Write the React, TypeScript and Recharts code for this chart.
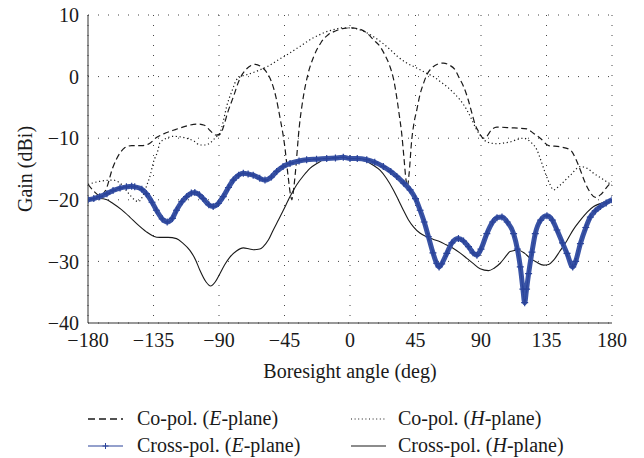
import React from 'react'
import { LineChart, Line, XAxis, YAxis, CartesianGrid, Label } from 'recharts'

// angle (deg) / gain (dBi) pairs
const coPolEAngle = [
  -180, -176, -172, -168, -163, -158, -155, -150, -143, -138, -133, -128, -120, -112, -105, -100,
  -96, -92, -89, -87, -84, -80, -76, -72, -68, -65, -61, -57, -54, -51, -48, -45, -42.5, -41, -40,
  -39, -37.5, -35, -32, -29, -25, -20, -15, -10, -5, 0, 5, 11.5, 16, 20.6, 24, 27.5, 30, 32, 34,
  35.5, 37, 38.5, 39.4, 40.5, 42.4, 44, 45.9, 48, 50.5, 53, 56.2, 60, 64.2, 68, 72.2, 75, 78, 81,
  83.7, 86, 88.3, 91.7, 94, 97, 100.9, 110, 121.6, 126, 130.7, 136.5, 144.5, 151.4, 155, 158.3,
  161, 164, 168.6, 172, 176.6, 180,
]
const coPolEGain = [
  -17.5, -18.6, -19.3, -18.5, -14.8, -12.4, -11.6, -11.2, -11.2, -10.9, -9.9, -9.3, -8.6, -8.0,
  -7.7, -7.9, -8.8, -9.5, -9.3, -8.2, -5.8, -3.2, -0.5, 1.0, 1.8, 2.0, 1.6, 0.6, -0.8, -3.2, -6.8,
  -11, -16.2, -19.0, -20.0, -18.8, -15.5, -8.5, -3.2, 0.3, 3.2, 5.5, 6.8, 7.4, 7.8, 7.9, 7.8, 7.1,
  6.0, 4.9, 3.5, 1.6, -0.5, -3.2, -6.5, -9.2, -13, -16.8, -17.9, -16, -10.3, -7.5, -5.4, -3.0,
  -1.1, 0.4, 1.4, 2.0, 2.2, 1.9, 1.1, -0.2, -1.6, -3.6, -5.9, -7.8, -8.9, -10, -9.7, -8.7, -8.2,
  -8.3, -8.5, -9.2, -10, -11.2, -11.4, -11.9, -13.3, -15.2, -16.9, -18.4, -19.6, -19.2, -17.9, -17,
]

const coPolHAngle = [
  -180, -172, -163, -157, -152, -148, -145.6, -142, -140, -137, -135.3, -132, -130.7, -126, -121.5,
  -116, -112.3, -107, -103.2, -99, -96.3, -92, -89.4, -87, -84.8, -81, -77.9, -74, -71, -66, -61.9,
  -57, -52.7, -48, -43.5, -39, -34.4, -30, -25.2, -20, -16, -10, -6.8, 0, 8, 16, 22, 27.5, 33, 39,
  44, 48.2, 53, 57.3, 62, 66.5, 71, 75.7, 80, 83.7, 86.5, 89.4, 94, 100.9, 105, 110, 115, 119.2,
  124, 128.4, 131, 134.2, 137, 139.9, 142, 144.5, 151.4, 158.3, 163, 167.4, 172, 176.6, 180,
]
const coPolHGain = [
  -17.5, -17.0, -16.8, -17.5, -19.0, -20.0, -20.3, -19.2, -17.9, -15.8, -14.1, -12, -10.8, -10.0,
  -9.7, -9.8, -10, -10.5, -11.1, -11.1, -10.8, -9.8, -9.2, -7.2, -4.9, -2.3, -0.5, 0.1, 0.3, 0.7,
  1.1, 1.6, 2.2, 2.9, 3.5, 4.2, 4.9, 5.6, 6.3, 6.9, 7.3, 7.7, 7.9, 7.9, 7.5, 6.5, 5.5, 4.4, 3.2,
  2.2, 1.6, 1.1, 0.5, 0, -0.8, -1.6, -2.6, -3.8, -5.3, -7, -8.4, -9.5, -10.6, -10.9, -10.8, -10.6,
  -10.2, -10, -10.6, -11.9, -13.5, -15.7, -17.3, -18.4, -18.1, -17.6, -16, -14.6, -14.9, -15.7,
  -16.4, -17.1, -17.6,
]

const crossPolEAngle = [
  -180, -176, -172, -167, -162.8, -158, -153.6, -150, -147.9, -143, -139.9, -136, -133, -129,
  -125.6, -122, -119.2, -115.5, -112.3, -109, -106.6, -103.5, -100.9, -97, -94, -90.5, -87.1,
  -83.5, -80.2, -76.5, -73.3, -70, -66.5, -62, -58.4, -54, -50.4, -46, -41.2, -35, -29.8, -23, -16,
  -10, -4.6, 0, 5, 11.5, 17, 22.9, 28, 32.1, 37, 41.3, 45, 48.2, 51, 53.9, 57, 59.5, 61.2, 63,
  66.5, 70, 74.5, 78, 81.4, 84.5, 87.2, 90, 94, 98, 101, 104.4, 108, 112.4, 115, 117, 118.8, 120,
  121.3, 122.7, 125, 127.3, 131, 135.3, 139, 142.2, 146, 149.1, 153, 155, 158.3, 162, 165.1,
  168.5, 172, 176, 180,
]
const crossPolEGain = [
  -20, -19.8, -19.5, -19.0, -18.5, -18.1, -17.9, -17.8, -17.9, -18.3, -19.0, -20.4, -21.7, -23.1,
  -23.6, -23.0, -21.7, -20.3, -19.5, -18.9, -18.8, -19.2, -19.8, -20.8, -21.1, -20.6, -19.5, -18.0,
  -16.8, -16.0, -15.7, -15.8, -16.0, -16.5, -16.8, -16.3, -15.4, -14.6, -14.1, -13.7, -13.5, -13.4,
  -13.3, -13.2, -13.1, -13.3, -13.3, -13.5, -13.9, -14.6, -15.4, -16.2, -17.3, -18.4, -19.8,
  -21.7, -23.6, -26.0, -28.6, -30.3, -30.9, -30.4, -28.7, -27.0, -26.3, -26.7, -27.6, -28.6,
  -29.0, -28.0, -25.5, -23.6, -22.9, -22.8, -23.6, -25.5, -28.0, -30.9, -34.5, -36.7, -34.5, -32.0,
  -28.5, -25.5, -23.3, -22.6, -23.3, -24.9, -27.0, -28.7, -30.9, -30.0, -27.1, -24.5, -22.8, -21.8,
  -21.1, -20.5, -20,
]

const crossPolHAngle = [
  -180, -172, -167, -162.8, -157, -151.3, -146, -139.9, -135, -130.7, -125, -119.2, -115, -110,
  -106, -103.2, -99, -95.8, -92.5, -89.4, -86, -82.5, -78, -73.3, -69, -66.5, -62, -59.6, -56,
  -52.7, -49, -45.8, -41, -36.7, -32, -27.5, -22, -18.3, -12, -6.9, 0, 6, 11.5, 16, 20.6, 25,
  29.8, 33, 36.7, 40, 43.6, 48, 52.8, 57, 61.9, 66, 71.1, 76, 80.3, 85, 89.4, 95.2, 99, 103.2, 107,
  110, 115.8, 120, 123.9, 128, 133, 136.5, 139.9, 144, 149.1, 153, 158.3, 163, 167.4, 172, 176.6,
  180,
]
const crossPolHGain = [
  -20, -19.8, -20.0, -20.6, -21.6, -22.8, -24.0, -25.2, -25.9, -26.1, -26.1, -26.3, -27.0, -28.2,
  -29.8, -31.4, -33.3, -34, -33.3, -32, -30.5, -29.3, -28.3, -27.8, -28.0, -28.1, -28.0, -27.6,
  -26.5, -24.9, -23.2, -21.7, -19.4, -17.6, -16.1, -14.9, -14.0, -13.5, -13.2, -13.1, -13.3, -13.5,
  -13.8, -14.4, -15.2, -16.5, -18.4, -19.9, -21.7, -23.2, -24.4, -25.4, -26.0, -26.4, -26.8, -27.3,
  -27.9, -28.7, -29.5, -30.4, -31.2, -31.5, -31.1, -30.3, -29.2, -28.4, -28.2, -28.7, -29.5,
  -30.1, -30.6, -30.5, -29.8, -28.4, -26.6, -25.0, -23.3, -22.0, -21.1, -20.6, -20.2, -20,
]

const xTicks = [-180, -135, -90, -45, 0, 45, 90, 135, 180]
const yTicks = [10, 0, -10, -20, -30, -40]

const toRows = (angles: number[], gains: number[]) =>
  angles.map((angle, i) => ({ angle, gain: gains[i] }))

const coPolE = toRows(coPolEAngle, coPolEGain)
const coPolH = toRows(coPolHAngle, coPolHGain)
const crossPolE = toRows(crossPolEAngle, crossPolEGain)
const crossPolH = toRows(crossPolHAngle, crossPolHGain)

const FONT = '"Liberation Serif", "DejaVu Serif", serif'
const INK = '#1a1a1a'
const BLUE = '#2a4399'

const minus = (v: number) => String(v).replace('-', '\u2212')

const PlusDot = (props: any) => {
  const { cx, cy } = props
  if (cx == null || cy == null) return null
  return (
    <path d={`M${cx - 3.5},${cy}H${cx + 3.5}M${cx},${cy - 3.5}V${cy + 3.5}`} stroke={BLUE} strokeWidth={1.2} />
  )
}

const YLabel = () => (
  <text
    x={32}
    y={169}
    transform="rotate(-90, 32, 169)"
    textAnchor="middle"
    fontFamily={FONT}
    fontSize={20}
    fill={INK}
  >
    Gain (dBi)
  </text>
)

const XLabel = () => (
  <text x={350} y={378} textAnchor="middle" fontFamily={FONT} fontSize={20} fill={INK}>
    Boresight angle (deg)
  </text>
)

const legendText = (x: number, y: number, a: string, it: string) => (
  <text x={x} y={y} fontFamily={FONT} fontSize={20} fill={INK}>
    {a}(<tspan fontStyle="italic">{it}</tspan>-plane)
  </text>
)

export default function App() {
  const tickStyle = { fontFamily: FONT, fontSize: 20, fill: INK }
  return (
    <div style={{ position: 'absolute', left: 0, top: 0, width: 644, height: 458, background: '#fff' }}>
      <LineChart width={644} height={458} margin={{ top: 15, right: 32, left: 28, bottom: 95 }}>
        <CartesianGrid stroke="#444" strokeDasharray="1 9" strokeWidth={1} />
        <XAxis
          dataKey="angle"
          type="number"
          domain={[-180, 180]}
          ticks={xTicks}
          tickFormatter={minus}
          tick={tickStyle}
          tickLine={false}
          tickSize={0}
          tickMargin={10}
          height={40}
          axisLine={{ stroke: '#333' }}
          allowDataOverflow
        >
          <Label content={<XLabel />} />
        </XAxis>
        <XAxis
          xAxisId="top"
          orientation="top"
          type="number"
          domain={[-180, 180]}
          ticks={xTicks}
          tick={false}
          tickLine={false}
          height={0}
          axisLine={{ stroke: '#333' }}
        />
        <YAxis
          type="number"
          domain={[-40, 10]}
          ticks={yTicks}
          tickFormatter={minus}
          tick={tickStyle}
          tickLine={false}
          tickSize={0}
          tickMargin={9}
          width={60}
          axisLine={{ stroke: '#333' }}
          allowDataOverflow
        >
          <Label content={<YLabel />} />
        </YAxis>
        <YAxis
          yAxisId="right"
          orientation="right"
          type="number"
          domain={[-40, 10]}
          ticks={yTicks}
          tick={false}
          tickLine={false}
          width={0}
          axisLine={{ stroke: '#333' }}
        />
        <Line
          data={coPolH}
          dataKey="gain"
          type="monotone"
          stroke={INK}
          strokeWidth={1.2}
          strokeDasharray="1.2 2.6"
          dot={false}
          isAnimationActive={false}
        />
        <Line
          data={coPolE}
          dataKey="gain"
          type="monotone"
          stroke={INK}
          strokeWidth={1.2}
          strokeDasharray="6 3.5"
          dot={false}
          isAnimationActive={false}
        />
        <Line
          data={crossPolH}
          dataKey="gain"
          type="monotone"
          stroke={INK}
          strokeWidth={1.1}
          dot={false}
          isAnimationActive={false}
        />
        <Line
          data={crossPolE}
          dataKey="gain"
          type="monotone"
          stroke="#3a54a6"
          strokeWidth={5}
          dot={false}
          isAnimationActive={false}
          legendType="none"
        />
        <Line
          data={crossPolE}
          dataKey="gain"
          type="monotone"
          stroke={BLUE}
          strokeWidth={1}
          dot={<PlusDot />}
          isAnimationActive={false}
        />
      </LineChart>
      <svg
        width={644}
        height={70}
        style={{ position: 'absolute', left: 0, top: 395 }}
        viewBox="0 395 644 70"
      >
        <line x1={88} x2={123} y1={419} y2={419} stroke={INK} strokeWidth={1.3} strokeDasharray="7 4" />
        {legendText(137, 425, 'Co-pol. ', 'E')}
        <line x1={351} x2={386} y1={419} y2={419} stroke={INK} strokeWidth={1.1} strokeDasharray="1 2.6" />
        {legendText(398, 425, 'Co-pol. ', 'H')}
        <line x1={88} x2={123} y1={446} y2={446} stroke={BLUE} strokeWidth={1.2} />
        <path d="M102.5,446H108.5M105.5,443V449" stroke={BLUE} strokeWidth={1} />
        {legendText(137, 452, 'Cross-pol. ', 'E')}
        <line x1={351} x2={386} y1={446} y2={446} stroke={INK} strokeWidth={1.2} />
        {legendText(398, 452, 'Cross-pol. ', 'H')}
      </svg>
    </div>
  )
}
